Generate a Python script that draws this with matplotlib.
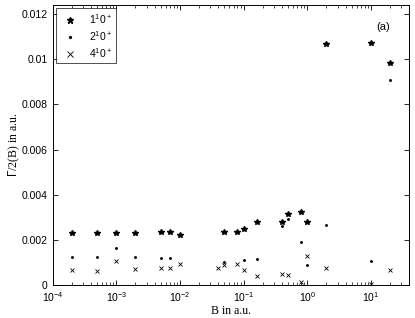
import numpy as np
import matplotlib
matplotlib.use("Agg")
import matplotlib.pyplot as plt

nan = np.nan
B = [2e-4, 5e-4, 1e-3, 2e-3, 5e-3, 7e-3, 1e-2, 0.04, 0.05, 0.08,
     0.1, 0.16, 0.4, 0.5, 0.8, 1.0, 2.0, 10.0, 20.0]
gamma_1 = [0.00231, 0.00231, 0.00231, 0.00229, 0.00233, 0.00233, 0.00222, nan,
           0.00235, 0.00233, 0.00249, 0.00277, 0.00280, 0.00315, 0.00321,
           0.00277, 0.01067, 0.01070, 0.00985]
gamma_2 = [0.00122, 0.00122, 0.00162, 0.00122, 0.00120, 0.00118, nan, nan,
           0.00100, nan, 0.00112, 0.00113, 0.00259, 0.00291, 0.00191,
           0.00087, 0.00265, 0.00106, 0.00910]
gamma_4 = [0.00068, 0.00063, 0.00105, 0.00069, 0.00074, 0.00074, 0.00094, 0.00077,
           0.00089, 0.00094, 0.00065, 0.00039, 0.00050, 0.00042, 0.00012,
           0.00129, 0.00077, 0.00005, 0.00065]
labels = [r"1$^1$0$^+$", r"2$^1$0$^+$", r"4$^1$0$^+$"]

plt.rcParams["font.family"] = "Liberation Sans"
plt.rcParams["mathtext.fontset"] = "custom"
plt.rcParams["mathtext.rm"] = "Liberation Sans"

fig = plt.figure(figsize=(4.15, 3.18), dpi=100)
ax = fig.add_axes([0.127, 0.104, 0.859, 0.880])

ax.plot(B, gamma_1, "k*", ms=4, label=labels[0])
ax.plot(B, gamma_2, "k.", ms=2.2, label=labels[1])
ax.plot(B, gamma_4, "kx", ms=3.2, mew=0.6, label=labels[2])

ax.set_xscale("log")
ax.set_xlim(1e-4, 40)
ax.set_ylim(0, 0.0124)
ax.set_yticks(np.arange(0, 0.0121, 0.002))
ax.set_yticklabels(["0", "0.002", "0.004", "0.006", "0.008", "0.01", "0.012"])
ax.tick_params(which="both", direction="in", top=True, right=True, labelsize=7.5)
ax.tick_params(which="major", length=3.5, width=0.6)
ax.tick_params(which="minor", length=2, width=0.5)
for s in ax.spines.values():
    s.set_linewidth(0.7)

ax.set_xlabel("B in a.u.", family="Liberation Serif", fontsize=8.5, labelpad=1)
ax.set_ylabel(r"$\Gamma$/2(B) in a.u.", family="Liberation Serif", fontsize=8.5, labelpad=0)
ax.text(0.909, 0.923, "(a)", fontsize=8, transform=ax.transAxes, va="center")

leg = ax.legend(loc="upper left", fontsize=7.5, frameon=True, fancybox=False,
                edgecolor="k", borderpad=0.35, handletextpad=0.8, labelspacing=0.3,
                borderaxespad=0.3, markerscale=1.2)
leg.get_frame().set_linewidth(0.6)

plt.savefig("out.png", dpi=100)
